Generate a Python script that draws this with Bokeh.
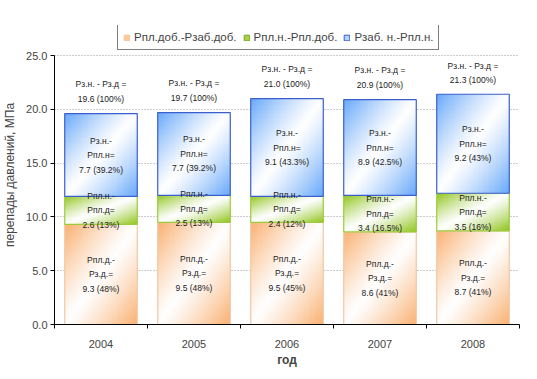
import numpy as np
from bokeh.plotting import figure
from bokeh.models import (ColumnDataSource, FixedTicker, Legend, LegendItem,
                          Range1d, CustomJSTickFormatter)
from bokeh.core.properties import value
from bokeh.embed import file_html
from bokeh.resources import INLINE

years = ["2004", "2005", "2006", "2007", "2008"]
orange = [9.3, 9.5, 9.5, 8.6, 8.7]     # Рпл.д - Рз.д
green = [2.6, 2.5, 2.4, 3.4, 3.5]      # Рпл.н - Рпл.д
blue = [7.7, 7.7, 9.1, 8.9, 9.2]       # Рз.н - Рпл.н
totals = [19.6, 19.7, 21.0, 20.9, 21.3]
orange_pct = ["48%", "48%", "45%", "41%", "41%"]
green_pct = ["13%", "13%", "12%", "16.5%", "16%"]
blue_pct = ["39.2%", "39.2%", "43.3%", "42.5%", "43%"]
legend_labels = ["Рпл.доб.-Рзаб.доб.", "Рпл.н.-Рпл.доб.", "Рзаб. н.-Рпл.н."]
y_ticks = [0, 5, 10, 15, 20, 25]

FONT = "Liberation Sans"
BW = 0.78
centers = [i + 0.5 for i in range(len(years))]


def gradient(rgb, nx=60, ny=60):
    u = np.linspace(0, 1, nx)[None, :]
    v = np.linspace(0, 1, ny)[:, None]
    t = np.clip(np.abs(u - v), 0, 1) ** 1.2
    img = np.empty((ny, nx, 4), dtype=np.uint8)
    for k in range(3):
        img[:, :, k] = (255 * (1 - t) + rgb[k] * t).astype(np.uint8)
    img[:, :, 3] = 255
    return img.view(dtype=np.uint32).reshape((ny, nx))


p = figure(width=521, height=371, output_backend="svg", toolbar_location=None,
           x_range=Range1d(0, 5), y_range=Range1d(0, 27.79),
           min_border_left=47, min_border_right=2, min_border_top=25,
           min_border_bottom=47)
p.outline_line_color = None
p.background_fill_color = "white"
p.border_fill_color = "white"

seg_bottoms = [
    [0.0] * 5,
    list(orange),
    [o + g for o, g in zip(orange, green)],
]
segs = [orange, green, blue]
cols = [(250, 178, 115), (145, 198, 30), (105, 170, 250)]
lines = ["#f2c8a4", "#9ccc3c", "#3a5fcd"]
fills = ["#fcc89a", "#a8d040", "#b0d4fa"]
leg_lines = ["#f5c49a", "#78a828", "#3a5fcd"]

for vals, bots, c, lc in zip(segs, seg_bottoms, cols, lines):
    img = gradient(c)
    src = ColumnDataSource(dict(
        image=[img] * len(vals),
        x=[ct - BW / 2 for ct in centers],
        y=bots,
        dw=[BW] * len(vals),
        dh=vals,
    ))
    p.image_rgba(image="image", x="x", y="y", dw="dw", dh="dh", source=src)
    p.vbar(x=centers, bottom=bots, top=[b + v for b, v in zip(bots, vals)],
           width=BW, fill_alpha=0, line_color=lc, line_width=1.2)

# labels inside segments
lab_texts = [
    [f"Рпл.д.-\nРз.д.=\n{v} ({pc})" for v, pc in zip(orange, orange_pct)],
    [f"Рпл.н.-\nРпл.д=\n{v} ({pc})" for v, pc in zip(green, green_pct)],
    [f"Рз.н.-\nРпл.н=\n{v} ({pc})" for v, pc in zip(blue, blue_pct)],
]
for vals, bots, texts in zip(segs, seg_bottoms, lab_texts):
    p.text(x=centers, y=[b + v / 2 for b, v in zip(bots, vals)], text=texts,
           text_align="center", text_baseline="middle",
           text_font=value(FONT), text_font_size="8.5px", text_color="#222222",
           text_line_height=1.45)

top_texts = [f"Рз.н. - Рз.д =\n{t:.1f} (100%)" for t in totals]
p.text(x=centers, y=totals, text=top_texts, y_offset=-10,
       text_align="center", text_baseline="bottom",
       text_font=value(FONT), text_font_size="8.5px", text_color="#222222",
       text_line_height=1.45)

# legend (proxy renderers placed outside the visible range)
leg_rs = []
for f, lc in zip(fills, leg_lines):
    leg_rs.append(p.vbar(x=[-5], bottom=[-5], top=[-4], width=0.5,
                         fill_color=f, line_color=lc))
legend = Legend(items=[LegendItem(label=l, renderers=[r]) for l, r in zip(legend_labels, leg_rs)],
                orientation="horizontal", location=(63, 274),
                label_text_font=FONT, label_text_font_size="11.5px",
                glyph_width=7, glyph_height=7, label_standoff=4, spacing=6,
                padding=5, margin=0, border_line_color="black",
                border_line_width=1, background_fill_alpha=1,
                label_height=14)
p.add_layout(legend, "center")

# axes
p.xaxis.ticker = FixedTicker(ticks=centers, minor_ticks=list(range(0, 6)))
p.xaxis.major_label_overrides = {c: y for c, y in zip(centers, years)}
p.xaxis.major_tick_out = 0
p.xaxis.major_tick_in = 0
p.xaxis.minor_tick_out = 4
p.xaxis.minor_tick_in = 0
p.xaxis.minor_tick_line_color = "black"
p.xaxis.axis_line_color = "black"
p.xaxis.major_label_text_font = FONT
p.xaxis.major_label_text_font_size = "11px"
p.xaxis.major_label_standoff = 11
p.xaxis.axis_label = "год"
p.xaxis.axis_label_text_font = FONT
p.xaxis.axis_label_text_font_size = "12px"
p.xaxis.axis_label_text_font_style = "bold"
p.xaxis.axis_label_standoff = 2

p.yaxis.ticker = FixedTicker(ticks=y_ticks, minor_ticks=[])
p.yaxis.bounds = (y_ticks[0], y_ticks[-1])
p.yaxis.formatter = CustomJSTickFormatter(code="return tick.toFixed(1);")
p.yaxis.major_tick_out = 4
p.yaxis.major_tick_in = 0
p.yaxis.axis_line_color = "black"
p.yaxis.major_label_text_font = FONT
p.yaxis.major_label_text_font_size = "11px"
p.yaxis.major_label_standoff = 3
p.yaxis.axis_label = "перепады давлений, МПа"
p.yaxis.axis_label_text_font = FONT
p.yaxis.axis_label_text_font_size = "12px"
p.yaxis.axis_label_text_font_style = "normal"
p.yaxis.axis_label_standoff = 6

p.xgrid.grid_line_color = None
p.ygrid.grid_line_color = "#999999"
p.ygrid.grid_line_dash = "1 2"

open("out.html", "w").write(file_html(p, INLINE))
